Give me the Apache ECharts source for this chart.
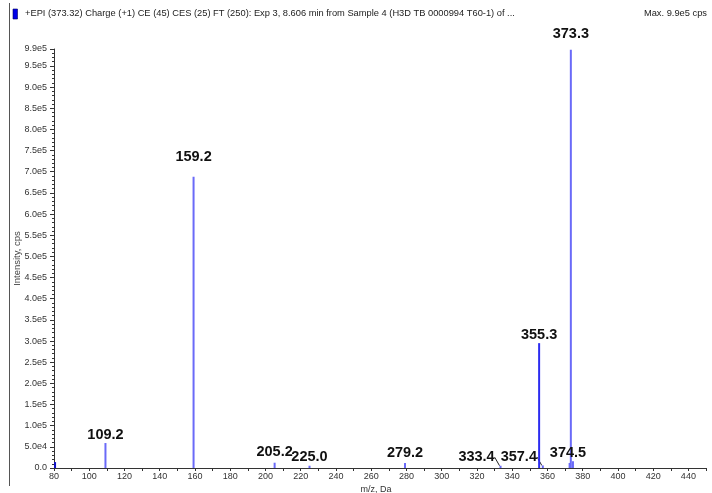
<!DOCTYPE html>
<html>
<head>
<meta charset="utf-8">
<script src="https://cdn.jsdelivr.net/npm/echarts@6/dist/echarts.min.js"></script>
<style>
  html, body { margin: 0; padding: 0; background: #fff; overflow: hidden; }
  #chart { width: 712px; height: 493px; }
</style>
</head>
<body>
<div id="chart"></div>
<script>
// Product ion spectrum: m/z positions and intensities (cps)
const mzValues    = [80.6, 109.2, 159.2, 205.2, 225.0, 279.2, 333.4, 355.3, 357.4, 372.6, 373.3, 374.5];
const intensities = [14000, 59000, 688000, 12500, 5400, 11800, 5400, 295000, 6000, 12000, 988000, 16000];
const peakLabels  = ['', '109.2', '159.2', '205.2', '225.0', '279.2', '333.4', '355.3', '357.4', '', '373.3', '374.5'];

const headerText = '+EPI (373.32) Charge (+1) CE (45) CES (25) FT (250): Exp 3, 8.606 min from Sample 4 (H3D TB 0000994 T60-1) of ...';
const maxText = 'Max. 9.9e5 cps';

// label nudges (px); the two crowded peaks get leader lines
const labelShift = {
  '159.2': [0, -11], '373.3': [0, -7], '205.2': [0, -2], '279.2': [0, -2],
  '333.4': [-24, 0], '357.4': [-24, 0], '374.5': [-5, 0]
};
const withLeader = ['333.4', '357.4'];

const NARROW = '"Liberation Sans Narrow", "Liberation Sans", Arial, sans-serif';

const data = mzValues.map((mz, i) => {
  const lbl = peakLabels[i];
  const item = {
    value: [mz, intensities[i]],
    itemStyle: { color: i === 0 ? '#1010c8' : (lbl === '355.3' ? '#2c2cf0' : '#6a6af8') },
    label: { show: lbl !== '', formatter: lbl }
  };
  if (withLeader.indexOf(lbl) >= 0) {
    item.labelLine = { show: true, lineStyle: { color: '#222', width: 1 } };
  }
  return item;
});

const chart = echarts.init(document.getElementById('chart'), null, { renderer: 'canvas' });

chart.setOption({
  animation: false,
  backgroundColor: '#ffffff',
  grid: { left: 54, right: 6, top: 49, bottom: 25, containLabel: false, outerBoundsMode: 'none' },
  graphic: [
    { type: 'line', shape: { x1: 9.5, y1: 3, x2: 9.5, y2: 486 }, style: { stroke: '#555', lineWidth: 1 } },
    { type: 'rect', shape: { x: 13, y: 9, width: 4.5, height: 10 }, style: { fill: '#0000e8', stroke: '#000060', lineWidth: 0.6 } },
    { type: 'text', left: 25, top: 9, style: { text: headerText, font: '9.3px ' + NARROW, fill: '#222' } },
    { type: 'text', right: 5, top: 9, style: { text: maxText, font: '9.3px ' + NARROW, fill: '#222' } }
  ],
  xAxis: {
    type: 'value',
    min: 80,
    max: 450,
    interval: 20,
    name: 'm/z, Da',
    nameLocation: 'middle',
    nameGap: 17,
    nameMoveOverlap: false,
    nameTextStyle: { fontFamily: NARROW, fontSize: 9, color: '#333', padding: [0, 8, 0, 0] },
    axisLine: { show: true, lineStyle: { color: '#333', width: 1 } },
    axisTick: { show: true, length: 3, lineStyle: { color: '#333' } },
    minorTick: { show: true, splitNumber: 2, length: 3, lineStyle: { color: '#333' } },
    axisLabel: { fontFamily: NARROW, fontSize: 9, color: '#333', margin: 4, showMaxLabel: false },
    splitLine: { show: false }
  },
  yAxis: {
    type: 'value',
    min: 0,
    max: 990000,
    interval: 50000,
    name: 'Intensity, cps',
    nameLocation: 'middle',
    nameGap: 32,
    nameMoveOverlap: false,
    nameTextStyle: { fontFamily: NARROW, fontSize: 9.5, color: '#444' },
    axisLine: { show: true, lineStyle: { color: '#333', width: 1 } },
    axisTick: { show: true, length: 4, lineStyle: { color: '#333' } },
    minorTick: { show: true, splitNumber: 5, length: 2, lineStyle: { color: '#333' } },
    axisLabel: {
      fontFamily: NARROW, fontSize: 9, color: '#333', margin: 7,
      formatter: v => v === 0 ? '0.0' : v.toExponential(1).replace('e+', 'e')
    },
    splitLine: { show: false }
  },
  series: [{
    type: 'bar',
    barWidth: 2,
    data: data,
    label: {
      show: true,
      position: 'top',
      distance: 1,
      fontFamily: NARROW,
      fontWeight: 'bold',
      fontSize: 14.5,
      color: '#111'
    },
    labelLayout: function (params) {
      const s = labelShift[peakLabels[params.dataIndex]];
      return s ? { dx: s[0], dy: s[1] } : {};
    }
  }]
});
</script>
</body>
</html>
